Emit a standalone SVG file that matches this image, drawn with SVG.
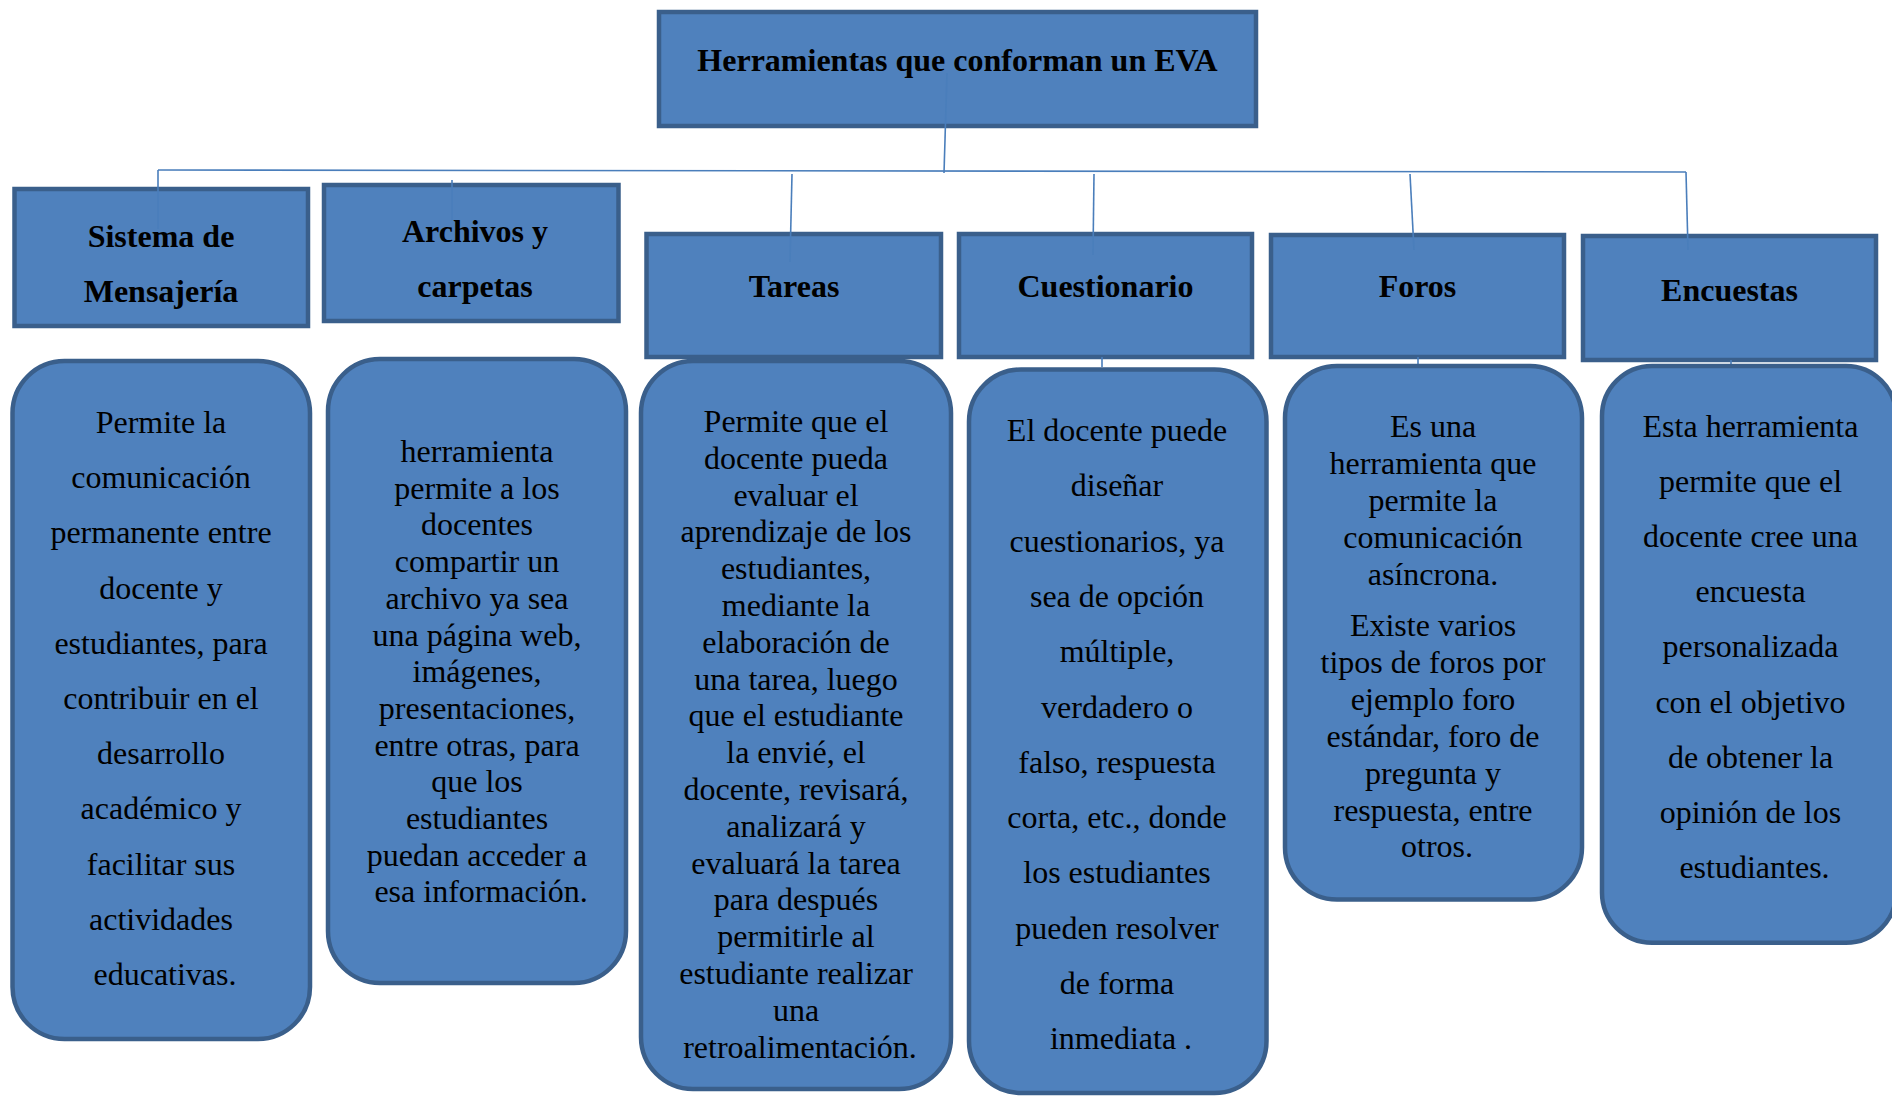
<svg xmlns="http://www.w3.org/2000/svg" width="1892" height="1097" viewBox="0 0 1892 1097">
<style>
.hdr{fill:#4F81BD;stroke:#3A5F8B;stroke-width:4.5}
.card{fill:#4F81BD;stroke:#3A5F8B;stroke-width:4.5}
.ht{font-family:"Liberation Serif","Times New Roman",serif;font-weight:bold;font-size:32px;fill:#000;text-anchor:middle}
.bt{font-family:"Liberation Serif","Times New Roman",serif;font-size:32px;fill:#000;text-anchor:middle}
.conn line{stroke:#4A7EBB;stroke-width:1.6;fill:none}
</style>
<rect width="1892" height="1097" fill="#FFFFFF"/>

<g id="root">
<rect class="hdr" x="659" y="12" width="597" height="114"/>
<text class="ht" x="957.5" y="71">Herramientas que conforman un EVA</text>
</g>

<g id="h-sistema">
<rect class="hdr" x="14.5" y="189" width="293.5" height="137"/>
<text class="ht" x="161" y="247">Sistema de</text>
<text class="ht" x="161" y="302">Mensajería</text>
</g>
<g id="h-archivos">
<rect class="hdr" x="324" y="185" width="294.5" height="136"/>
<text class="ht" x="475" y="242">Archivos y</text>
<text class="ht" x="475" y="297">carpetas</text>
</g>
<g id="h-tareas">
<rect class="hdr" x="646.5" y="234" width="294.5" height="123"/>
<text class="ht" x="794" y="297">Tareas</text>
</g>
<g id="h-cuestionario">
<rect class="hdr" x="959" y="234" width="293" height="123"/>
<text class="ht" x="1105.5" y="297">Cuestionario</text>
</g>
<g id="h-foros">
<rect class="hdr" x="1271" y="235" width="293" height="122"/>
<text class="ht" x="1417.5" y="297">Foros</text>
</g>
<g id="h-encuestas">
<rect class="hdr" x="1583" y="236" width="293" height="124"/>
<text class="ht" x="1729.5" y="301">Encuestas</text>
</g>

<g id="connectors" class="conn">
<line x1="947" y1="73" x2="944" y2="173"/>
<line x1="158" y1="170" x2="1686" y2="172"/>
<line x1="158" y1="170" x2="158" y2="229"/>
<line x1="452" y1="180" x2="452" y2="221"/>
<line x1="792" y1="174" x2="790" y2="262"/>
<line x1="1094" y1="174" x2="1093" y2="255"/>
<line x1="1410" y1="174" x2="1414" y2="250"/>
<line x1="1686" y1="172" x2="1688" y2="250"/>
<line x1="1102" y1="357" x2="1102" y2="367"/>
<line x1="1418" y1="357" x2="1418" y2="366"/>
<line x1="1731" y1="360" x2="1731" y2="366"/>
</g>

<g id="d-sistema">
<rect class="card" x="12.5" y="361" width="297.5" height="678" rx="52" ry="52"/>
<text class="bt">
<tspan x="165" y="433">Permite la</tspan>
<tspan x="165" y="488.2">comunicación</tspan>
<tspan x="165" y="543.4">permanente entre</tspan>
<tspan x="165" y="598.6">docente y</tspan>
<tspan x="165" y="653.8">estudiantes, para</tspan>
<tspan x="165" y="709">contribuir en el</tspan>
<tspan x="165" y="764.2">desarrollo</tspan>
<tspan x="165" y="819.4">académico y</tspan>
<tspan x="165" y="874.6">facilitar sus</tspan>
<tspan x="165" y="929.8">actividades</tspan>
<tspan x="165" y="985">educativas.</tspan>
</text>
</g>

<g id="d-archivos">
<rect class="card" x="328" y="359" width="298" height="624" rx="52" ry="52"/>
<text class="bt">
<tspan x="481" y="462">herramienta</tspan>
<tspan x="481" y="498.7">permite a los</tspan>
<tspan x="481" y="535.4">docentes</tspan>
<tspan x="481" y="572.1">compartir un</tspan>
<tspan x="481" y="608.8">archivo ya sea</tspan>
<tspan x="481" y="645.5">una página web,</tspan>
<tspan x="481" y="682.2">imágenes,</tspan>
<tspan x="481" y="718.9">presentaciones,</tspan>
<tspan x="481" y="755.6">entre otras, para</tspan>
<tspan x="481" y="792.3">que los</tspan>
<tspan x="481" y="829">estudiantes</tspan>
<tspan x="481" y="865.7">puedan acceder a</tspan>
<tspan x="481" y="902.4">esa información.</tspan>
</text>
</g>

<g id="d-tareas">
<rect class="card" x="641" y="361" width="310" height="728" rx="52" ry="52"/>
<text class="bt">
<tspan x="800" y="432">Permite que el</tspan>
<tspan x="800" y="468.8">docente pueda</tspan>
<tspan x="800" y="505.6">evaluar el</tspan>
<tspan x="800" y="542.4">aprendizaje de los</tspan>
<tspan x="800" y="579.2">estudiantes,</tspan>
<tspan x="800" y="616">mediante la</tspan>
<tspan x="800" y="652.8">elaboración de</tspan>
<tspan x="800" y="689.6">una tarea, luego</tspan>
<tspan x="800" y="726.4">que el estudiante</tspan>
<tspan x="800" y="763.2">la envié, el</tspan>
<tspan x="800" y="800">docente, revisará,</tspan>
<tspan x="800" y="836.8">analizará y</tspan>
<tspan x="800" y="873.6">evaluará la tarea</tspan>
<tspan x="800" y="910.4">para después</tspan>
<tspan x="800" y="947.2">permitirle al</tspan>
<tspan x="800" y="984">estudiante realizar</tspan>
<tspan x="800" y="1020.8">una</tspan>
<tspan x="800" y="1057.6">retroalimentación.</tspan>
</text>
</g>

<g id="d-cuestionario">
<rect class="card" x="969" y="369.5" width="297.5" height="723.5" rx="52" ry="52"/>
<text class="bt">
<tspan x="1121" y="441">El docente puede</tspan>
<tspan x="1121" y="496.3">diseñar</tspan>
<tspan x="1121" y="551.6">cuestionarios, ya</tspan>
<tspan x="1121" y="606.9">sea de opción</tspan>
<tspan x="1121" y="662.2">múltiple,</tspan>
<tspan x="1121" y="717.5">verdadero o</tspan>
<tspan x="1121" y="772.8">falso, respuesta</tspan>
<tspan x="1121" y="828.1">corta, etc., donde</tspan>
<tspan x="1121" y="883.4">los estudiantes</tspan>
<tspan x="1121" y="938.7">pueden resolver</tspan>
<tspan x="1121" y="994">de forma</tspan>
<tspan x="1121" y="1049.3">inmediata .</tspan>
</text>
</g>

<g id="d-foros">
<rect class="card" x="1285" y="366" width="297" height="533.5" rx="52" ry="52"/>
<text class="bt">
<tspan x="1437" y="436.6">Es una</tspan>
<tspan x="1437" y="473.7">herramienta que</tspan>
<tspan x="1437" y="510.8">permite la</tspan>
<tspan x="1437" y="547.9">comunicación</tspan>
<tspan x="1437" y="585">asíncrona.</tspan>
<tspan x="1437" y="636">Existe varios</tspan>
<tspan x="1437" y="672.9">tipos de foros por</tspan>
<tspan x="1437" y="709.8">ejemplo foro</tspan>
<tspan x="1437" y="746.7">estándar, foro de</tspan>
<tspan x="1437" y="783.6">pregunta y</tspan>
<tspan x="1437" y="820.5">respuesta, entre</tspan>
<tspan x="1437" y="857.4">otros.</tspan>
</text>
</g>

<g id="d-encuestas">
<rect class="card" x="1602" y="366" width="294" height="576.7" rx="50" ry="50"/>
<text class="bt">
<tspan x="1754.5" y="436.6">Esta herramienta</tspan>
<tspan x="1754.5" y="491.8">permite que el</tspan>
<tspan x="1754.5" y="547">docente cree una</tspan>
<tspan x="1754.5" y="602.2">encuesta</tspan>
<tspan x="1754.5" y="657.4">personalizada</tspan>
<tspan x="1754.5" y="712.6">con el objetivo</tspan>
<tspan x="1754.5" y="767.8">de obtener la</tspan>
<tspan x="1754.5" y="823">opinión de los</tspan>
<tspan x="1754.5" y="878.2">estudiantes.</tspan>
</text>
</g>
</svg>
